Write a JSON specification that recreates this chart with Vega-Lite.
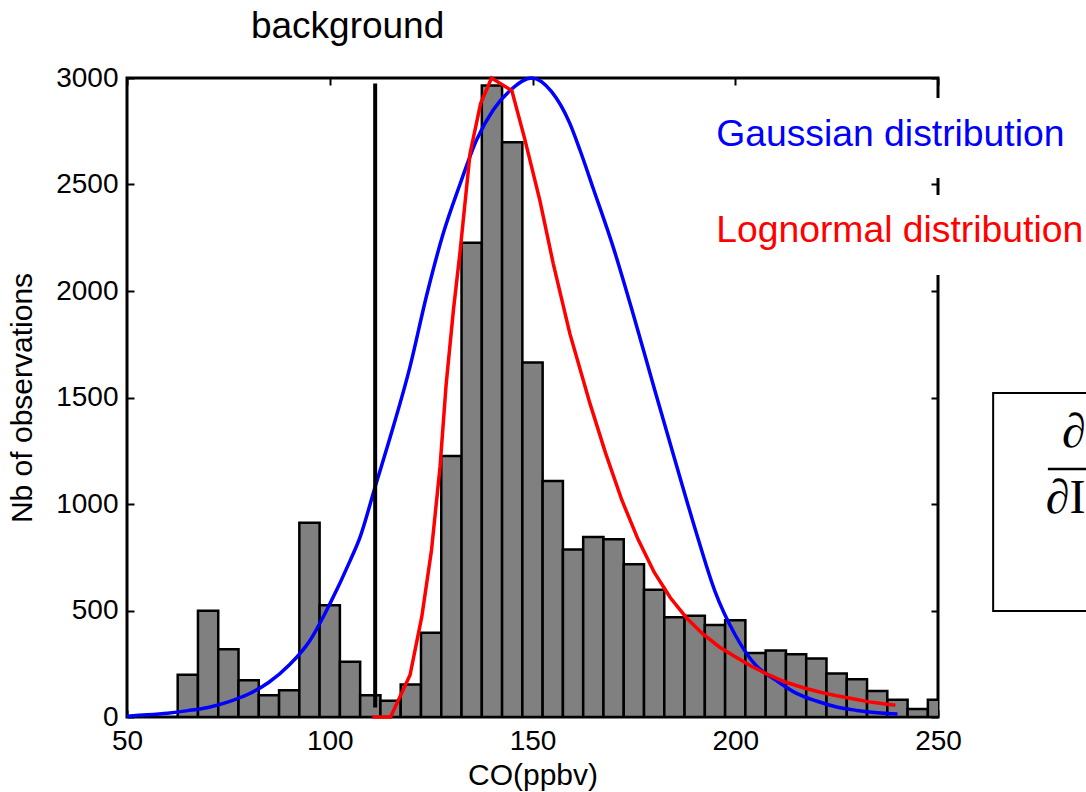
{
  "$schema": "https://vega.github.io/schema/vega-lite/v6.json",
  "width": 811,
  "height": 639,
  "autosize": {"type": "none"},
  "padding": {"left": 127, "top": 78, "right": 148, "bottom": 75},
  "background": "white",
  "config": {
    "view": {"stroke": "black", "strokeWidth": 3},
    "font": "Liberation Sans",
    "axis": {"grid": false, "domain": false, "labelColor": "black", "titleColor": "black", "tickColor": "black", "tickWidth": 2, "tickSize": 7, "offset": -7, "labelFlush": false, "labelOverlap": false, "labelFont": "Liberation Sans", "titleFont": "Liberation Sans", "titleFontWeight": "normal"}
  },
  "datasets": {
    "hist": [
      {"bin_start": 62.5, "bin_end": 67.5, "count": 198},
      {"bin_start": 67.5, "bin_end": 72.5, "count": 499},
      {"bin_start": 72.5, "bin_end": 77.5, "count": 318},
      {"bin_start": 77.5, "bin_end": 82.5, "count": 173},
      {"bin_start": 82.5, "bin_end": 87.5, "count": 102},
      {"bin_start": 87.5, "bin_end": 92.5, "count": 126},
      {"bin_start": 92.5, "bin_end": 97.5, "count": 912},
      {"bin_start": 97.5, "bin_end": 102.5, "count": 525},
      {"bin_start": 102.5, "bin_end": 107.5, "count": 259},
      {"bin_start": 107.5, "bin_end": 112.5, "count": 102},
      {"bin_start": 112.5, "bin_end": 117.5, "count": 76},
      {"bin_start": 117.5, "bin_end": 122.5, "count": 152},
      {"bin_start": 122.5, "bin_end": 127.5, "count": 395},
      {"bin_start": 127.5, "bin_end": 132.5, "count": 1225},
      {"bin_start": 132.5, "bin_end": 137.5, "count": 2226},
      {"bin_start": 137.5, "bin_end": 142.5, "count": 2965},
      {"bin_start": 142.5, "bin_end": 147.5, "count": 2698},
      {"bin_start": 147.5, "bin_end": 152.5, "count": 1664},
      {"bin_start": 152.5, "bin_end": 157.5, "count": 1108},
      {"bin_start": 157.5, "bin_end": 162.5, "count": 786},
      {"bin_start": 162.5, "bin_end": 167.5, "count": 845},
      {"bin_start": 167.5, "bin_end": 172.5, "count": 835},
      {"bin_start": 172.5, "bin_end": 177.5, "count": 717},
      {"bin_start": 177.5, "bin_end": 182.5, "count": 597},
      {"bin_start": 182.5, "bin_end": 187.5, "count": 468},
      {"bin_start": 187.5, "bin_end": 192.5, "count": 475},
      {"bin_start": 192.5, "bin_end": 197.5, "count": 432},
      {"bin_start": 197.5, "bin_end": 202.5, "count": 454},
      {"bin_start": 202.5, "bin_end": 207.5, "count": 301},
      {"bin_start": 207.5, "bin_end": 212.5, "count": 312},
      {"bin_start": 212.5, "bin_end": 217.5, "count": 295},
      {"bin_start": 217.5, "bin_end": 222.5, "count": 275},
      {"bin_start": 222.5, "bin_end": 227.5, "count": 204},
      {"bin_start": 227.5, "bin_end": 232.5, "count": 177},
      {"bin_start": 232.5, "bin_end": 237.5, "count": 122},
      {"bin_start": 237.5, "bin_end": 242.5, "count": 81},
      {"bin_start": 242.5, "bin_end": 247.5, "count": 37},
      {"bin_start": 247.5, "bin_end": 252.5, "count": 81}
    ],
    "gauss": [
      {"co": 50, "n": 4}, {"co": 55, "n": 10}, {"co": 60, "n": 18}, {"co": 65, "n": 30},
      {"co": 70, "n": 45}, {"co": 75, "n": 71}, {"co": 80, "n": 108}, {"co": 85, "n": 163},
      {"co": 90, "n": 244}, {"co": 95, "n": 356}, {"co": 100, "n": 530}, {"co": 105, "n": 733},
      {"co": 107.5, "n": 846}, {"co": 111.2, "n": 1081}, {"co": 115, "n": 1320}, {"co": 119.8, "n": 1645},
      {"co": 123.9, "n": 1980}, {"co": 128, "n": 2271}, {"co": 132.1, "n": 2500}, {"co": 136.2, "n": 2709},
      {"co": 140.3, "n": 2850}, {"co": 144.4, "n": 2940}, {"co": 149.8, "n": 3000}, {"co": 154.7, "n": 2936},
      {"co": 159.2, "n": 2787}, {"co": 161.7, "n": 2662}, {"co": 165, "n": 2480}, {"co": 170, "n": 2200},
      {"co": 175, "n": 1880}, {"co": 180, "n": 1545}, {"co": 185, "n": 1215}, {"co": 190, "n": 890},
      {"co": 195, "n": 590}, {"co": 200, "n": 385}, {"co": 205, "n": 244}, {"co": 210, "n": 173},
      {"co": 215, "n": 112}, {"co": 220, "n": 75}, {"co": 225, "n": 47}, {"co": 230, "n": 31},
      {"co": 235, "n": 20}, {"co": 240, "n": 14}
    ],
    "lognorm": [
      {"co": 110.5, "n": 0}, {"co": 115, "n": 0}, {"co": 119.8, "n": 197}, {"co": 122.7, "n": 471},
      {"co": 125.1, "n": 784}, {"co": 127.2, "n": 1175}, {"co": 128.7, "n": 1560}, {"co": 130.5, "n": 1911},
      {"co": 132.1, "n": 2178}, {"co": 134.6, "n": 2646}, {"co": 137.2, "n": 2880}, {"co": 139.9, "n": 3000},
      {"co": 144.9, "n": 2941}, {"co": 148, "n": 2720}, {"co": 151.8, "n": 2427}, {"co": 155.1, "n": 2130},
      {"co": 159.2, "n": 1801}, {"co": 164.2, "n": 1470}, {"co": 168, "n": 1240}, {"co": 172, "n": 1020},
      {"co": 176, "n": 835}, {"co": 180, "n": 680}, {"co": 184, "n": 560}, {"co": 188, "n": 465},
      {"co": 192, "n": 390}, {"co": 196, "n": 330}, {"co": 200, "n": 283}, {"co": 204, "n": 238},
      {"co": 208.5, "n": 195}, {"co": 212.5, "n": 163}, {"co": 217, "n": 136}, {"co": 221, "n": 116},
      {"co": 225, "n": 100}, {"co": 229, "n": 86}, {"co": 233, "n": 71}, {"co": 237, "n": 61},
      {"co": 239.5, "n": 55}
    ]
  },
  "resolve": {"axis": {"x": "independent", "y": "independent"}, "scale": {"x": "independent", "y": "independent"}},
  "layer": [
    {
      "layer": [
        {
          "data": {"name": "hist"},
          "mark": {"type": "rect", "fill": "#808080", "stroke": "black", "strokeWidth": 2.5, "clip": true},
          "encoding": {
            "x": {"field": "bin_start", "type": "quantitative", "scale": {"domain": [50, 250], "nice": false, "zero": false},
                  "axis": {"orient": "bottom", "values": [50, 100, 150, 200, 250], "format": "d", "labelPadding": 10, "labelFontSize": 28, "title": "CO(ppbv)", "titleFontSize": 30, "titlePadding": 5}},
            "x2": {"field": "bin_end"},
            "y": {"field": "count", "type": "quantitative", "scale": {"domain": [0, 3000], "nice": false, "zero": false},
                  "axis": {"orient": "left", "values": [0, 500, 1000, 1500, 2000, 2500, 3000], "format": "d", "labelPadding": 9, "labelFontSize": 28, "title": "Nb of observations", "titleFontSize": 30, "titlePadding": 18}},
            "y2": {"datum": 0}
          }
        },
        {
          "data": {"name": "gauss"},
          "mark": {"type": "line", "color": "#0000ff", "strokeWidth": 3.5, "interpolate": "monotone"},
          "encoding": {
            "x": {"field": "co", "type": "quantitative"},
            "y": {"field": "n", "type": "quantitative"}
          }
        },
        {
          "data": {"values": [{}]},
          "mark": {"type": "rule", "color": "black", "strokeWidth": 4},
          "encoding": {
            "x": {"datum": 111.2, "type": "quantitative"},
            "y": {"datum": 2974, "type": "quantitative"},
            "y2": {"datum": 45}
          }
        },
        {
          "data": {"values": [{}]},
          "mark": {"type": "rect", "fill": "white"},
          "encoding": {
            "x": {"datum": 194.3, "type": "quantitative"},
            "x2": {"datum": 295},
            "y": {"datum": 2906, "type": "quantitative"},
            "y2": {"datum": 2531}
          }
        },
        {
          "data": {"values": [{}]},
          "mark": {"type": "rect", "fill": "white"},
          "encoding": {
            "x": {"datum": 194.3, "type": "quantitative"},
            "x2": {"datum": 295},
            "y": {"datum": 2451, "type": "quantitative"},
            "y2": {"datum": 2075}
          }
        },
        {
          "data": {"values": [{}]},
          "mark": {"type": "text", "text": "Gaussian distribution", "color": "#0000ff", "fontSize": 37.3, "align": "left", "baseline": "alphabetic", "font": "Liberation Sans"},
          "encoding": {
            "x": {"datum": 195.3, "type": "quantitative"},
            "y": {"datum": 2681, "type": "quantitative"}
          }
        },
        {
          "data": {"values": [{}]},
          "mark": {"type": "text", "text": "Lognormal distribution", "color": "#ff0000", "fontSize": 37.3, "align": "left", "baseline": "alphabetic", "font": "Liberation Sans"},
          "encoding": {
            "x": {"datum": 195.3, "type": "quantitative"},
            "y": {"datum": 2230, "type": "quantitative"}
          }
        },
        {
          "data": {"values": [{}]},
          "mark": {"type": "text", "text": "background", "color": "black", "fontSize": 37, "align": "center", "baseline": "alphabetic", "font": "Liberation Sans"},
          "encoding": {
            "x": {"datum": 104.4, "type": "quantitative"},
            "y": {"datum": 3188, "type": "quantitative"}
          }
        },
        {
          "data": {"values": [{}]},
          "mark": {"type": "rect", "fill": "white", "fillOpacity": 0, "stroke": "black", "strokeWidth": 2},
          "encoding": {
            "x": {"datum": 263.6, "type": "quantitative"},
            "x2": {"datum": 300},
            "y": {"datum": 1521, "type": "quantitative"},
            "y2": {"datum": 498}
          }
        },
        {
          "data": {"values": [{}]},
          "mark": {"type": "text", "text": "∂", "color": "black", "fontSize": 48, "fontStyle": "italic", "align": "left", "baseline": "alphabetic", "font": "Liberation Serif"},
          "encoding": {
            "x": {"datum": 280.6, "type": "quantitative"},
            "y": {"datum": 1268, "type": "quantitative"}
          }
        },
        {
          "data": {"values": [{}]},
          "mark": {"type": "rule", "color": "black", "strokeWidth": 2.5},
          "encoding": {
            "x": {"datum": 277.1, "type": "quantitative"},
            "x2": {"datum": 300},
            "y": {"datum": 1164, "type": "quantitative"}
          }
        },
        {
          "data": {"values": [{}]},
          "mark": {"type": "text", "text": "∂I", "color": "black", "fontSize": 48, "align": "left", "baseline": "alphabetic", "font": "Liberation Serif"},
          "encoding": {
            "x": {"datum": 276.6, "type": "quantitative"},
            "y": {"datum": 958, "type": "quantitative"}
          }
        }
      ]
    },
    {
      "data": {"name": "lognorm"},
      "mark": {"type": "line", "color": "#ff0000", "strokeWidth": 3.5},
      "encoding": {
        "x": {"field": "co", "type": "quantitative", "scale": {"domain": [50, 250], "nice": false, "zero": false},
              "axis": {"orient": "top", "values": [50, 100, 150, 200, 250], "labels": false, "title": null}},
        "y": {"field": "n", "type": "quantitative", "scale": {"domain": [0, 3000], "nice": false, "zero": false},
              "axis": {"orient": "right", "values": [0, 500, 1000, 1500, 2000, 2500, 3000], "labels": false, "title": null}}
      }
    }
  ]
}
